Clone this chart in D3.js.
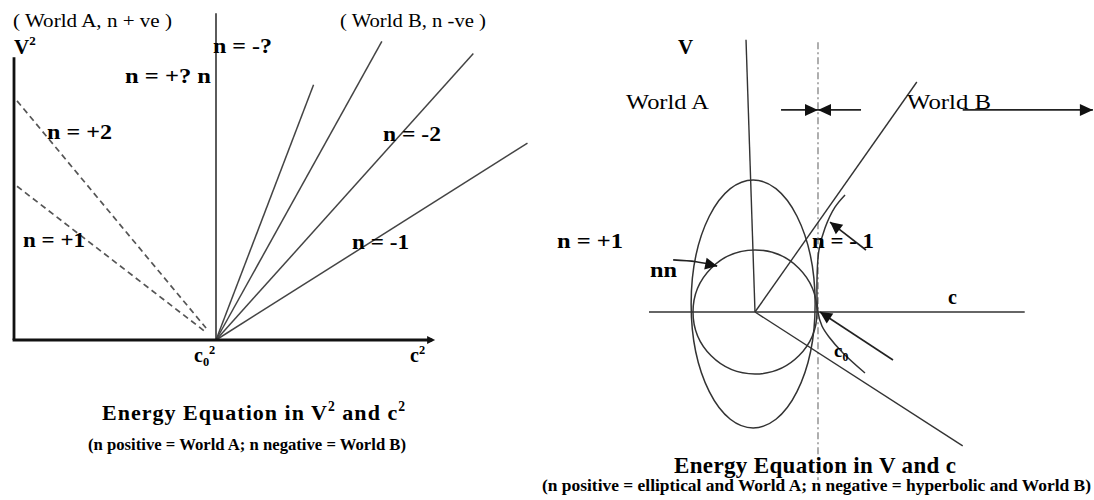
<!DOCTYPE html>
<html>
<head>
<meta charset="utf-8">
<script src="https://cdn.jsdelivr.net/npm/d3@7"></script>
<style>
  html, body { margin: 0; padding: 0; background: #fff; }
  svg { display: block; font-family: "Liberation Serif", "Times New Roman", serif; }
</style>
</head>
<body>
<svg id="chart" width="1094" height="500"></svg>
<script>
// ---------- Left diagram: V^2 against c^2 (units: c0^2 = 1) ----------
const c0Squared = 1;
const v2AxisTop = 1.40;
const c2AxisEnd = 2.07;
const c0LineTop = 1.617;
// World A (n positive): dashed rays, start points on the V^2 axis
const worldANames = ["n = +2", "n = +1"];
const worldAStartC2 = [0.015, 0.015];
const worldAStartV2 = [1.184, 0.761];
// World B (n negative): solid rays from c0^2, end points
const worldBEndC2 = [1.483, 1.821, 2.274, 2.542];
const worldBEndV2 = [1.264, 1.478, 1.418, 0.975];

// ---------- Right diagram: V against c (units: circle radius = 1) ----------
const circleRadius = 1;
const ellipseCentre = [-0.03, 0.13];
const ellipseRadii = [1.0, 2.0];
const cAxisRange = [-1.71, 4.35];
const c0Value = 1.016;
const c0LineRange = [-2.71, 4.35];
// rays from the origin: V axis, upper and lower asymptotes
const rayEndC = [-0.145, 2.61, 3.35];
const rayEndV = [4.39, 3.71, -2.16];
// hyperbolic branch (n = -1) through c0
const hyperC = [1.452, 1.29, 1.129, 1.032, 1.0, 1.016, 1.08, 1.194, 1.419, 1.774];
const hyperV = [1.887, 1.69, 1.355, 1.0, 0.516, 0, -0.226, -0.403, -0.661, -0.984];
// pointer arrows [fromC, fromV, toC, toV]
const worldArrows = [[0.42, 3.26, 1.016, 3.26], [1.71, 3.26, 1.016, 3.26], [3.35, 3.26, 5.45, 3.26]];
const c0Arrow = [2.226, -0.774, 1.048, 0];
const hyperArrow = [1.79, 1.0, 1.21, 1.45];
const nnArrowC = [-1.32, -0.95, -0.61];
const nnArrowV = [0.84, 0.81, 0.74];

const svg = d3.select("#chart");

const xL = d3.scaleLinear().domain([0, 1]).range([14, 216]);
const yL = d3.scaleLinear().domain([0, 1]).range([340, 138]);
const xR = d3.scaleLinear().domain([0, 1]).range([755, 817]);
const yR = d3.scaleLinear().domain([0, 1]).range([312, 250]);

function addText(g, o, parts) {
  const t = g.append("text")
    .attr("x", o.x).attr("y", o.y)
    .attr("font-size", o.size)
    .attr("font-weight", o.weight || "normal")
    .attr("fill", "#000");
  if (typeof parts === "string") parts = [[parts, null]];
  let shift = 0;
  parts.forEach(([s, kind]) => {
    const target = kind === "sup" ? -o.size * 0.42 : kind === "sub" ? o.size * 0.22 : 0;
    const ts = t.append("tspan").attr("dy", target - shift).text(s);
    if (kind) ts.attr("font-size", o.size * 0.62);
    shift = target;
  });
  if (o.width) t.attr("textLength", o.width).attr("lengthAdjust", o.adjust || "spacingAndGlyphs");
  return t;
}

function arrowHead(g, x1, y1, x2, y2, len, half) {
  const a = Math.atan2(y2 - y1, x2 - x1);
  const bx = x2 - len * Math.cos(a), by = y2 - len * Math.sin(a);
  const px = -Math.sin(a) * half, py = Math.cos(a) * half;
  g.append("path")
    .attr("d", `M${x2},${y2}L${bx + px},${by + py}L${bx - px},${by - py}Z`)
    .attr("fill", "#111");
}

// ===== Left diagram =====
const L = svg.append("g");
const line = (g, x1, y1, x2, y2, stroke, w) =>
  g.append("line").attr("x1", x1).attr("y1", y1).attr("x2", x2).attr("y2", y2)
    .attr("stroke", stroke).attr("stroke-width", w);

// World B rays
worldBEndC2.forEach((c, i) => {
  line(L, xL(c0Squared), yL(0), xL(c), yL(worldBEndV2[i]), "#444", 1.5);
});
// World A dashed rays (stop just short of c0^2)
worldANames.forEach((n, i) => {
  const sc = worldAStartC2[i], sv = worldAStartV2[i];
  const ec = sc + (c0Squared - sc) * 0.95, ev = sv * 0.05;
  line(L, xL(sc), yL(sv), xL(ec), yL(ev), "#555", 1.7).attr("stroke-dasharray", "6,4");
});
// vertical line at c0^2
line(L, xL(c0Squared), yL(0), xL(c0Squared), yL(c0LineTop), "#333", 1.6);
// axes
line(L, xL(0), yL(0), xL(0), yL(v2AxisTop), "#111", 2.8);
line(L, xL(0) - 1.4, yL(0), xL(c2AxisEnd), yL(0), "#111", 2.8);
arrowHead(L, xL(0), yL(0), xL(c2AxisEnd) + 3, yL(0), 8, 4);

addText(L, { x: 13, y: 27, size: 19, width: 159 }, "( World A, n + ve )");
addText(L, { x: 340, y: 27, size: 19, width: 146 }, "( World B, n -ve )");
addText(L, { x: 14, y: 54, size: 21, weight: "bold" }, [["V", null], ["2", "sup"]]);
addText(L, { x: 213, y: 53, size: 21, weight: "bold", width: 59 }, "n = -?");
addText(L, { x: 125, y: 83, size: 21, weight: "bold", width: 86 }, "n = +? n");
addText(L, { x: 47, y: 139, size: 21, weight: "bold", width: 65 }, "n = +2");
addText(L, { x: 383, y: 141, size: 21, weight: "bold", width: 58 }, "n = -2");
addText(L, { x: 23, y: 247, size: 21, weight: "bold", width: 62 }, "n = +1");
addText(L, { x: 352, y: 249, size: 21, weight: "bold", width: 57 }, "n = -1");
addText(L, { x: 194, y: 362, size: 20, weight: "bold" }, [["c", null], ["0", "sub"], ["2", "sup"]]);
addText(L, { x: 410, y: 362, size: 20, weight: "bold" }, [["c", null], ["2", "sup"]]);
addText(L, { x: 102, y: 420, size: 22, weight: "bold", width: 303, adjust: "spacing" },
  [["Energy Equation in V", null], ["2", "sup"], [" and c", null], ["2", "sup"]]);
addText(L, { x: 88, y: 450, size: 17, weight: "bold", width: 318 },
  "(n positive = World A; n negative = World B)");

// ===== Right diagram =====
const R = svg.append("g");

// dash-dot line at c0
line(R, xR(c0Value), yR(c0LineRange[1]), xR(c0Value), yR(c0LineRange[0]), "#9a9a9a", 1.6)
  .attr("stroke-dasharray", "7,3,2,3");

// elliptical orbit and circle
R.append("ellipse")
  .attr("cx", xR(ellipseCentre[0])).attr("cy", yR(ellipseCentre[1]))
  .attr("rx", xR(ellipseRadii[0]) - xR(0)).attr("ry", yR(0) - yR(ellipseRadii[1]))
  .attr("fill", "none").attr("stroke", "#333").attr("stroke-width", 1.5);
R.append("circle")
  .attr("cx", xR(0)).attr("cy", yR(0))
  .attr("r", xR(circleRadius) - xR(0))
  .attr("fill", "none").attr("stroke", "#333").attr("stroke-width", 1.5);

// c axis
line(R, xR(cAxisRange[0]), yR(0), xR(cAxisRange[1]), yR(0), "#333", 1.5);
// rays from origin
rayEndC.forEach((c, i) => line(R, xR(0), yR(0), xR(c), yR(rayEndV[i]), "#333", 1.4));

// hyperbola
const hyperPts = hyperC.map((c, i) => [xR(c), yR(hyperV[i])]);
R.append("path")
  .attr("d", d3.line().curve(d3.curveCatmullRom.alpha(0.5))(hyperPts))
  .attr("fill", "none").attr("stroke", "#333").attr("stroke-width", 1.5);

// straight pointer arrows
function straightArrow(a, len, half) {
  const [c1, v1, c2, v2] = a;
  line(R, xR(c1), yR(v1), xR(c2), yR(v2), "#222", 1.6);
  arrowHead(R, xR(c1), yR(v1), xR(c2), yR(v2), len, half);
}
worldArrows.forEach(a => straightArrow(a, 13, 6));
straightArrow(c0Arrow, 12, 6);
straightArrow(hyperArrow, 12, 6);

// curved arrow from "nn" to the circle
const nnPts = nnArrowC.map((c, i) => [xR(c), yR(nnArrowV[i])]);
R.append("path")
  .attr("d", d3.line().curve(d3.curveNatural)(nnPts))
  .attr("fill", "none").attr("stroke", "#222").attr("stroke-width", 1.6);
arrowHead(R, nnPts[1][0], nnPts[1][1], nnPts[2][0], nnPts[2][1], 12, 6);

addText(R, { x: 678, y: 54, size: 21, weight: "bold" }, "V");
addText(R, { x: 626, y: 109, size: 21, width: 83 }, "World A");
addText(R, { x: 907, y: 109, size: 21, width: 84 }, "World B");
addText(R, { x: 557, y: 248, size: 21, weight: "bold", width: 66 }, "n = +1");
addText(R, { x: 812, y: 248, size: 21, weight: "bold", width: 62 }, "n = - 1");
addText(R, { x: 650, y: 277, size: 21, weight: "bold", width: 27 }, "nn");
addText(R, { x: 948, y: 304, size: 20, weight: "bold" }, "c");
addText(R, { x: 834, y: 357, size: 19, weight: "bold" }, [["c", null], ["0", "sub"]]);
addText(R, { x: 674, y: 473, size: 23, weight: "bold", width: 282, adjust: "spacing" }, "Energy Equation in V and c");
addText(R, { x: 542, y: 491, size: 17, weight: "bold", width: 549 },
  "(n positive = elliptical and World A; n negative = hyperbolic and World B)");
</script>
</body>
</html>
